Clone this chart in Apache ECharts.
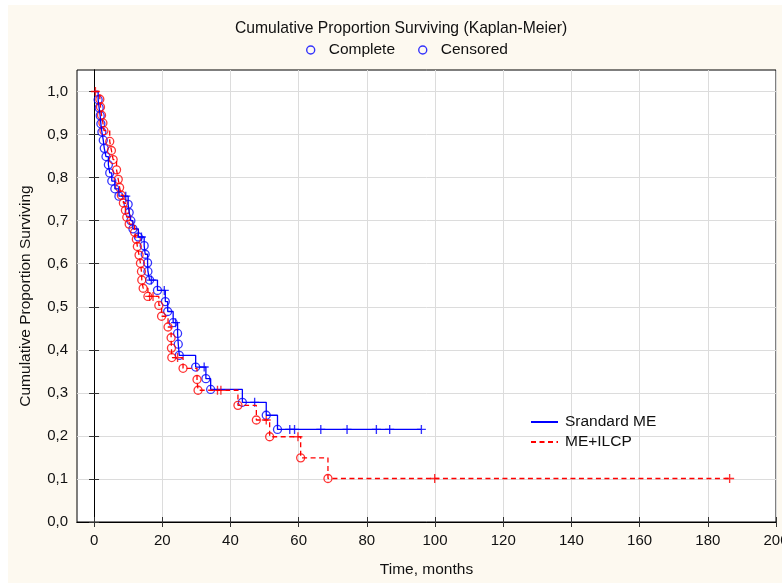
<!DOCTYPE html>
<html>
<head>
<meta charset="utf-8">
<title>Kaplan-Meier</title>
<script src="https://cdn.jsdelivr.net/npm/echarts@6/dist/echarts.min.js"></script>
<style>
html, body { margin: 0; padding: 0; background: #fff; }
#kmchart { width: 782px; height: 585px; }
</style>
</head>
<body>
<div id="kmchart"></div>
<script>
var xTicks = [0, 20, 40, 60, 80, 100, 120, 140, 160, 180, 200];
var yTicks = [0, 0.1, 0.2, 0.3, 0.4, 0.5, 0.6, 0.7, 0.8, 0.9, 1.0];

// Srandard ME: event times (months) and survival after each event
var stdTimes = [1.2, 1.5, 1.8, 2.0, 2.3, 2.7, 3.0, 3.5, 4.2, 4.6, 5.2, 6.1, 7.3, 10.0, 10.3, 10.8, 11.4, 13.0,
  14.7, 15.0, 15.7, 15.8, 16.3, 18.6, 20.9, 21.6, 23.2, 24.5, 24.7, 25.0, 29.8, 32.8, 34.2, 43.5, 50.5, 53.8];
var stdSurv = [0.981, 0.962, 0.944, 0.925, 0.906, 0.887, 0.868, 0.849, 0.830, 0.811, 0.792, 0.774, 0.757, 0.738,
  0.719, 0.700, 0.681, 0.662, 0.642, 0.622, 0.602, 0.582, 0.562, 0.538, 0.512, 0.489, 0.463, 0.438, 0.413, 0.387,
  0.360, 0.333, 0.308, 0.278, 0.248, 0.215];
var stdCens = [9.3, 13.9, 16.8, 20.6, 23.9, 32.3, 47.1, 57.4, 58.8, 66.5, 74.2, 82.8, 86.7, 96.0];

// ME+ILCP
var ilcpTimes = [1.7, 1.9, 2.2, 2.6, 2.9, 4.6, 5.1, 5.6, 6.6, 7.1, 7.5, 8.0, 8.6, 9.2, 9.6, 10.3, 11.9, 12.4, 12.7,
  13.2, 13.6, 13.9, 14.0, 14.4, 15.8, 19.0, 19.8, 21.7, 22.6, 22.7, 22.8, 26.1, 30.2, 30.5, 42.2, 47.6, 51.5, 60.6, 68.6];
var ilcpSurv = [0.982, 0.964, 0.945, 0.927, 0.909, 0.884, 0.863, 0.842, 0.818, 0.796, 0.777, 0.759, 0.741, 0.724,
  0.708, 0.692, 0.673, 0.657, 0.640, 0.620, 0.601, 0.582, 0.562, 0.543, 0.524, 0.503, 0.478, 0.453, 0.428, 0.404,
  0.382, 0.357, 0.331, 0.306, 0.271, 0.237, 0.198, 0.149, 0.101];
var ilcpCens = [0.4, 16.3, 17.3, 24.5, 36.2, 37.2, 50.5, 59.8, 99.9, 186.4];

var BLUE = '#0000ff';
var RED = '#ff0000';
var FONT = '"Liberation Sans", Arial, sans-serif';
var plusIcon = 'path://M6.8,0H9.2V6.8H16V9.2H9.2V16H6.8V9.2H0V6.8H6.8Z';

function survAt(times, surv, t) {
  var s = 1;
  for (var i = 0; i < times.length; i++) {
    if (times[i] <= t) s = surv[i];
  }
  return s;
}
function stepData(times, surv, cens) {
  var d = [[0, 1]];
  for (var i = 0; i < times.length; i++) d.push([times[i], surv[i]]);
  var last = Math.max.apply(null, cens);
  if (last > times[times.length - 1]) d.push([last, surv[surv.length - 1]]);
  return d;
}
function eventData(times, surv) {
  return times.map(function (t, i) { return [t, surv[i]]; });
}
function censData(times, surv, cens) {
  return cens.map(function (c) { return [c, survAt(times, surv, c)]; });
}
function fmtY(v) { return v.toFixed(1).replace('.', ','); }

var tickStyle = { show: true, inside: true, length: 5, lineStyle: { color: '#333' } };
var noSymbol = { color: 'transparent', borderColor: 'transparent', borderWidth: 0 };

var option = {
  animation: false,
  backgroundColor: '#fff',
  textStyle: { fontFamily: FONT },
  graphic: [{
    type: 'rect', z: -100, silent: true,
    shape: { x: 8, y: 5, width: 774, height: 578 },
    style: { fill: '#fdf9f0' }
  }],
  title: {
    text: 'Cumulative Proportion Surviving (Kaplan-Meier)',
    left: 230, top: 16,
    textStyle: { fontFamily: FONT, fontSize: 15.7, fontWeight: 'normal', color: '#111' }
  },
  legend: [{
    left: 301, top: 37, itemWidth: 8, itemHeight: 8, itemGap: 23,
    selectedMode: false,
    textStyle: { fontFamily: FONT, fontSize: 15.5, color: '#111', padding: [0, 0, 0, 9] },
    data: [
      { name: 'Complete', icon: 'circle', itemStyle: { color: 'transparent', borderColor: BLUE, borderWidth: 1.4 } },
      { name: 'Censored', icon: 'circle', itemStyle: { color: 'transparent', borderColor: BLUE, borderWidth: 1.4 } }
    ]
  }, {
    left: 525, top: 409, orient: 'vertical', itemWidth: 27, itemHeight: 14, itemGap: 4,
    selectedMode: false,
    textStyle: { fontFamily: FONT, fontSize: 15.5, color: '#111', padding: [0, 0, 0, 2] },
    data: [
      { name: 'Srandard ME', itemStyle: noSymbol },
      { name: 'ME+ILCP', itemStyle: noSymbol }
    ]
  }],
  grid: {
    left: 77, right: 6, top: 70, bottom: 63,
    outerBoundsMode: 'none',
    show: true, backgroundColor: '#fff', borderColor: '#000', borderWidth: 1
  },
  xAxis: [{
    type: 'value', min: -5, max: 200,
    name: 'Time, months', nameLocation: 'middle', nameGap: 40,
    nameTextStyle: { fontFamily: FONT, fontSize: 15.5, color: '#111' },
    axisLine: { show: true, lineStyle: { color: '#000', width: 1 } },
    axisTick: Object.assign({ customValues: xTicks }, tickStyle),
    axisLabel: { customValues: xTicks, margin: 11, fontFamily: FONT, fontSize: 15, color: '#111' },
    splitLine: { show: true, lineStyle: { color: '#dcdcdc', width: 1 } }
  }, {
    type: 'value', min: -5, max: 200, position: 'top',
    axisLine: { show: true, lineStyle: { color: '#000', width: 1 } },
    axisTick: Object.assign({ customValues: xTicks }, tickStyle),
    axisLabel: { show: false },
    splitLine: { show: false }
  }],
  yAxis: [{
    type: 'value', min: 0, max: 1.05,
    name: 'Cumulative Proportion Surviving', nameLocation: 'middle', nameGap: 43,
    nameTextStyle: { fontFamily: FONT, fontSize: 15.5, color: '#111' },
    axisLine: { show: true, lineStyle: { color: '#000', width: 1 } },
    axisTick: Object.assign({ customValues: yTicks }, tickStyle),
    axisLabel: { customValues: yTicks, margin: 9, formatter: fmtY, fontFamily: FONT, fontSize: 15, color: '#111' },
    splitLine: { show: true, lineStyle: { color: '#dcdcdc', width: 1 } }
  }, {
    type: 'value', min: 0, max: 1.05, position: 'right',
    axisLine: { show: true, lineStyle: { color: '#000', width: 1 } },
    axisTick: Object.assign({ customValues: yTicks }, tickStyle),
    axisLabel: { show: false },
    splitLine: { show: false }
  }],
  series: [{
    name: 'Srandard ME', type: 'line', step: 'end', symbol: 'none',
    data: stepData(stdTimes, stdSurv, stdCens),
    itemStyle: { color: BLUE },
    lineStyle: { color: BLUE, width: 1.3 }
  }, {
    name: 'ME+ILCP', type: 'line', step: 'end', symbol: 'none',
    data: stepData(ilcpTimes, ilcpSurv, ilcpCens),
    itemStyle: { color: RED },
    lineStyle: { color: RED, width: 1.3, type: [5, 3.5] }
  }, {
    name: 'Complete', type: 'scatter', symbol: 'circle', symbolSize: 8,
    data: eventData(stdTimes, stdSurv),
    itemStyle: { color: 'transparent', borderColor: BLUE, borderWidth: 1.3 }
  }, {
    name: 'Complete', type: 'scatter', symbol: 'circle', symbolSize: 8,
    data: eventData(ilcpTimes, ilcpSurv),
    itemStyle: { color: 'transparent', borderColor: RED, borderWidth: 1.3 }
  }, {
    name: 'Censored', type: 'scatter', symbol: plusIcon, symbolSize: 9,
    data: censData(stdTimes, stdSurv, stdCens),
    itemStyle: { color: BLUE }
  }, {
    name: 'Censored', type: 'scatter', symbol: plusIcon, symbolSize: 9,
    data: censData(ilcpTimes, ilcpSurv, ilcpCens),
    itemStyle: { color: RED }
  }]
};

var chartDom = document.getElementById('kmchart');
var kmChart = echarts.init(chartDom);
kmChart.setOption(option);
window.addEventListener('resize', function () {
  kmChart.resize();
});
</script>
</body>
</html>
